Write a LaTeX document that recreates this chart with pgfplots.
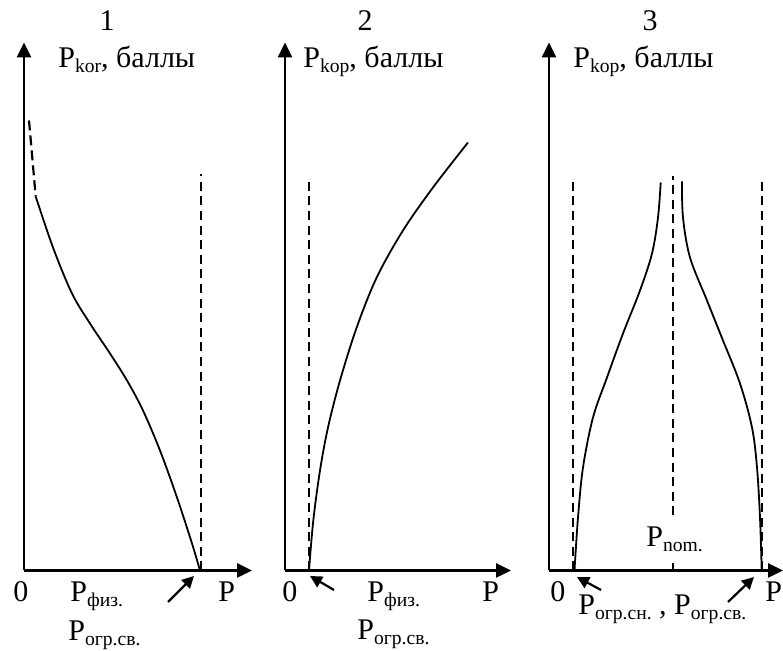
\documentclass[border=0pt]{standalone}
\usepackage{pgfplots}
\pgfplotsset{compat=1.18}
\usetikzlibrary{arrows.meta}
\usepackage{fontspec}
\setmainfont{Liberation Serif}

% picture is laid out in pixels of the reference, 1px = 0.5pt
\newcommand{\pxy}[2]{({#1*0.5pt},{(651-#2)*0.5pt})}
\newcommand{\sub}[1]{\raisebox{-0.15em}{\fontsize{9.8}{10}\selectfont #1}}

\pgfplotsset{
  panel/.style={
    x=0.5pt, y=0.5pt, xmin=0, ymin=0, ymax=528,
    axis lines=left, xtick=\empty, ytick=\empty,
    clip=false, anchor=origin,
    axis line style={line width=1.3pt, -{Triangle[length=7.5pt,width=7pt]}},
  },
  curve/.style={black, line width=0.9pt, smooth, tension=0.55, no marks},
  guide/.style={black, line width=0.9pt, dash pattern=on 4.5pt off 2.8pt, no marks},
}

\begin{document}
\fontsize{15}{18}\selectfont
\begin{tikzpicture}
\useasboundingbox (0,0) rectangle (391.5pt,325.5pt);

% ---- panel 1
\begin{axis}[panel, at={(12pt,40.25pt)}, xmax=228]
  \addplot[guide] coordinates {(177,0) (177,396)};
  \addplot[black, line width=1.1pt, dash pattern=on 5pt off 2.5pt, no marks]
    coordinates {(5,450) (11.7,374)};
  \addplot[curve] coordinates {
    (11.7,374) (29,323) (48,277) (66,247) (86,217) (103,190)
    (119,160) (136,120) (153,73) (168,27) (176,0)};
\end{axis}

% ---- panel 2
\begin{axis}[panel, at={(142.5pt,40.25pt)}, xmax=226]
  \addplot[guide] coordinates {(24,0) (24,394)};
  \addplot[curve] coordinates {
    (24,0) (28.3,50) (35,100) (43,143) (55,190) (71.7,243)
    (91.7,293) (118,340) (148,383) (183,428)};
\end{axis}

% ---- panel 3
\begin{axis}[panel, at={(274.5pt,40.25pt)}, xmax=234]
  \addplot[guide] coordinates {(24.3,0) (24.3,394)};
  \addplot[guide] coordinates {(212.7,0) (212.7,394)};
  \addplot[guide] coordinates {(123.7,55) (123.7,394)};
  \addplot[black, line width=0.9pt, no marks] coordinates {(123.7,0) (123.7,7)};
  \addplot[curve] coordinates {
    (25.5,0) (29,53) (34,103) (44,153) (58,193) (74,237)
    (91,280) (103,317) (109,353) (111.7,388)};
  \addplot[curve] coordinates {
    (133,389) (134,353) (141,313) (158,270) (174,230) (191,187)
    (203,143) (208,103) (211,53) (212.7,0)};
\end{axis}

% ---- labels
\node[anchor=base] at \pxy{107}{31} {1};
\node[anchor=base] at \pxy{365}{31} {2};
\node[anchor=base] at \pxy{650}{31} {3};
\node[anchor=base west, inner sep=0] at \pxy{58}{68} {P\sub{kor}, баллы};
\node[anchor=base west, inner sep=0] at \pxy{303}{68} {P\sub{kop}, баллы};
\node[anchor=base west, inner sep=0] at \pxy{573}{68} {P\sub{kop}, баллы};

\node[anchor=base west, inner sep=0] at \pxy{13}{602} {0};
\node[anchor=base west, inner sep=0] at \pxy{282}{602} {0};
\node[anchor=base west, inner sep=0] at \pxy{550}{602} {0};
\node[anchor=base west, inner sep=0] at \pxy{218}{602} {P};
\node[anchor=base west, inner sep=0] at \pxy{482}{602} {P};
\node[anchor=base west, inner sep=0] at \pxy{765}{602} {P};

\node[anchor=base west, inner sep=0] at \pxy{70}{602} {P\sub{физ.}};
\node[anchor=base west, inner sep=0] at \pxy{68}{641} {P\sub{огр.св.}};
\node[anchor=base west, inner sep=0] at \pxy{367}{602} {P\sub{физ.}};
\node[anchor=base west, inner sep=0] at \pxy{357}{640} {P\sub{огр.св.}};
\node[anchor=base west, inner sep=0] at \pxy{578}{615} {P\sub{огр.сн.} , P\sub{огр.св.}};
\node[anchor=base west, inner sep=0] at \pxy{646}{547} {P\sub{nom.}};

\begin{scope}[line width=1.1pt, -{Triangle[length=6pt,width=6pt]}]
  \draw \pxy{168}{602} -- \pxy{194}{576};
  \draw \pxy{334}{590} -- \pxy{310}{576};
  \draw \pxy{601}{590} -- \pxy{577}{577};
  \draw \pxy{728}{602} -- \pxy{754}{577};
\end{scope}
\end{tikzpicture}
\end{document}
